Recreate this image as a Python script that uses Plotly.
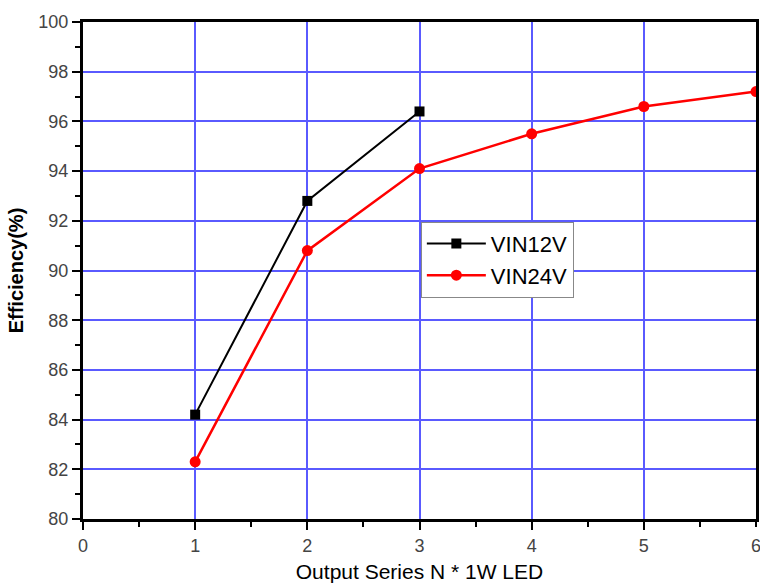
import plotly.graph_objects as go

x12 = [1, 2, 3]
y12 = [84.2, 92.8, 96.4]
x24 = [1, 2, 3, 4, 5, 6]
y24 = [82.3, 90.8, 94.1, 95.5, 96.6, 97.2]
x_ticks = [0, 1, 2, 3, 4, 5, 6]

fig = go.Figure()
fig.add_trace(go.Scatter(x=x12, y=y12, name="VIN12V", mode="lines+markers",
                         line=dict(color="black", width=2),
                         marker=dict(symbol="square", size=10, color="black")))
fig.add_trace(go.Scatter(x=x24, y=y24, name="VIN24V", mode="lines+markers",
                         line=dict(color="#ff0000", width=2.5),
                         marker=dict(symbol="circle", size=11, color="#ff0000")))

font = "Liberation Sans, Arial, sans-serif"
fig.update_layout(
    width=760, height=586,
    margin=dict(l=83, r=4, t=22, b=67),
    plot_bgcolor="white", paper_bgcolor="white",
    font=dict(family=font, color="#333333", size=18),
    showlegend=True,
    legend=dict(x=0.502, y=0.598, xanchor="left", yanchor="top",
                bgcolor="white", bordercolor="#888888", borderwidth=1,
                font=dict(size=22, color="black", family=font),
                itemwidth=59),
)
# last x tick label sits on the right edge and is partially cut, as in the reference
fig.add_annotation(x=x_ticks[-1], y=0, xref="x", yref="paper", text=str(x_ticks[-1]),
                   showarrow=False, xanchor="center", yanchor="top", yshift=-15,
                   font=dict(size=18, color="#444444", family=font))
fig.update_xaxes(range=[0, 6], tickvals=x_ticks[:-1], automargin=False,
                 showline=True, linecolor="black", linewidth=3, mirror=True,
                 ticks="outside", ticklen=8, tickwidth=2, tickcolor="black",
                 minor=dict(dtick=0.5, ticklen=5, tickwidth=2, tickcolor="black", ticks="outside", showgrid=False),
                 showgrid=True, gridcolor="#5a5aff", gridwidth=1.5, zeroline=False,
                 tickfont=dict(size=18, color="#444444"),
                 title=dict(text="Output Series N * 1W LED", font=dict(size=21, color="black"), standoff=10))
fig.update_yaxes(range=[80, 100], dtick=2, tick0=80, automargin=False,
                 showline=True, linecolor="black", linewidth=3, mirror=True,
                 ticks="outside", ticklen=8, tickwidth=2, tickcolor="black",
                 minor=dict(dtick=1, ticklen=5, tickwidth=2, tickcolor="black", ticks="outside", showgrid=False),
                 showgrid=True, gridcolor="#5a5aff", gridwidth=1.5, zeroline=False,
                 tickfont=dict(size=18, color="#444444"),
                 title=dict(text="<b>Efficiency(%)</b>", font=dict(size=20, color="black"), standoff=10))

fig.write_html("out.html", config={"displayModeBar": False})
with open("out.html", "r", encoding="utf-8") as f:
    html = f.read()
html = html.replace("<head>", "<head><style>html,body{margin:0;padding:0;overflow:hidden;}</style>", 1)
with open("out.html", "w", encoding="utf-8") as f:
    f.write(html)
